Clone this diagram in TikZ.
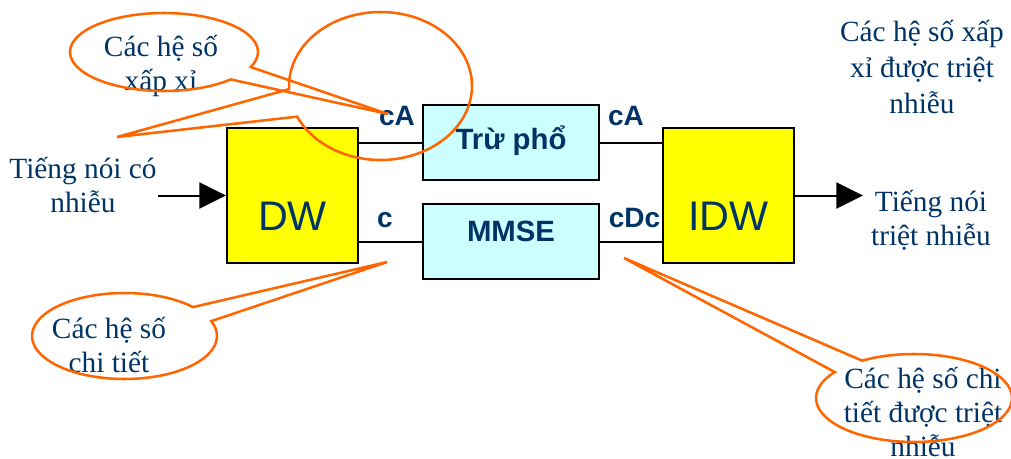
\documentclass[tikz,border=0pt]{standalone}
\usepackage{fontspec}
\setmainfont{Liberation Serif}
\setsansfont{Liberation Sans}
\usetikzlibrary{arrows.meta,shapes.callouts}
\definecolor{navy}{RGB}{0,51,102}
\definecolor{bubbleorange}{RGB}{255,102,0}
\definecolor{boxyellow}{RGB}{255,255,0}
\definecolor{boxcyan}{RGB}{204,255,255}

\begin{document}
\begin{tikzpicture}[
		x=0.75pt, y=-0.75pt,
		every node/.style={text=navy},
		wavebox/.style={draw, line width=1.5pt, fill=boxyellow, minimum width=98.25pt, minimum height=101.25pt, inner sep=0pt, font=\sffamily\fontsize{31}{31}\selectfont, text height=51.75pt, text depth=0pt},
		filterbox/.style={draw, line width=1.5pt, fill=boxcyan, minimum width=132pt, minimum height=56.25pt, inner sep=0pt, font=\sffamily\bfseries\fontsize{22}{22}\selectfont},
		coef/.style={font=\sffamily\bfseries\fontsize{21}{21}\selectfont, anchor=base, inner sep=0pt},
		note/.style={font=\fontsize{22}{25.5}\selectfont, align=center, inner sep=0pt},
		bubble/.style={ellipse callout, draw=bubbleorange, line width=1.9pt, inner sep=0pt, callout pointer arc=22},
		arrow/.style={-{Triangle[length=20pt,width=19.5pt]}, line width=1.5pt},
		link/.style={line width=1.5pt}
		]
		
		\useasboundingbox (0,0) rectangle (1011,458);
		
		% transform blocks
		\node[wavebox] (dw) at (292.5,195.5) {DW};
		\node[wavebox] (idw) at (728.5,195.5) {IDW};
		\node[filterbox, text height=9.75pt, text depth=0pt] (sub) at (511,142.5) {Trừ phổ};
		\node[filterbox, text height=0pt, text depth=0pt] (mmse) at (511,241.5) {MMSE};
		
		% coefficient labels
		\node[coef] (cal) at (397,125) {cA};
		\node[coef] (cdl) at (385,227) {c};
		\node[coef] (car) at (626,125) {cA};
		\node[coef] (cdc) at (634.5,227) {cDc};
		
		\draw[link] (dw.east |- sub.west) -- (sub.west);
		\draw[link] (dw.east |- mmse.west) -- (mmse.west);
		\draw[link] (sub.east) -- (sub.east -| idw.west);
		\draw[link] (mmse.east) -- (mmse.east -| idw.west);
		
		% input and output
		\coordinate (in) at (158,195.5);
		\coordinate (out) at (863,195.5);
		\draw[arrow] (in) -- (dw.west);
		\draw[arrow] (idw.east) -- (out);
		
		\node[note] (noisy) at (83,185) {Tiếng nói có\\nhiễu};
		\node[note] (clean) at (931,220) {Tiếng nói\\triệt nhiễu};
		\node[note, font=\fontsize{22}{27}\selectfont] (apxout) at (922,67) {Các hệ số xấp\\xỉ được triệt\\nhiễu};
		\node[note] (apxtext) at (161,66) {Các hệ số\\xấp xỉ};
		\node[note] (dettext) at (109,345) {Các hệ số\\chi tiết};
		\node[note] (detouttext) at (923,412) {Các hệ số chi\\tiết được triệt\\nhiễu};
		
		% callouts
		\node[bubble, minimum width=141pt, minimum height=58.5pt, callout absolute pointer={(388,114)}] (apx) at (164,52) {};
		\node[bubble, minimum width=137.25pt, minimum height=111pt, callout absolute pointer={(117,137)}] (loop) at (380.5,86) {};
		\node[bubble, minimum width=138.75pt, minimum height=64.5pt, callout absolute pointer={(387,262)}] (det) at (124.5,336) {};
		\node[bubble, minimum width=147pt, minimum height=66pt, callout absolute pointer={(624,258)}] (detout) at (914,398) {};
		
	\end{tikzpicture}
\end{document}
